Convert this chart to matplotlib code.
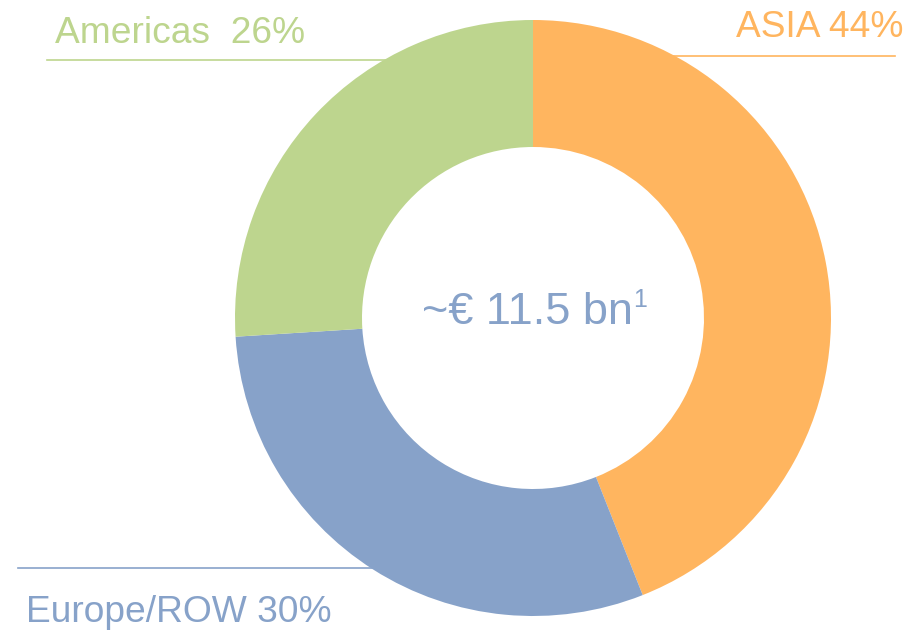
import matplotlib.pyplot as plt

regions = ["ASIA", "Europe/ROW", "Americas"]
shares = [44, 30, 26]
colors = ["#FFB55F", "#87A2C9", "#BDD58E"]
label_texts = ["ASIA 44%", "Europe/ROW 30%", "Americas  26%"]
center_text = "~€ 11.5 bn"
footnote_mark = "1"

W, H = 922, 630
fig = plt.figure(figsize=(W / 100, H / 100), dpi=100)
ax = fig.add_axes([0, 0, 1, 1])

cx, cy = 533, H - 318
r_out, r_in = 298, 171

# leader lines go behind the ring
ax.plot([47, 400], [H - 60, H - 60], color=colors[2], lw=1.2, zorder=1)
ax.plot([600, 895], [H - 56, H - 56], color=colors[0], lw=1.2, zorder=1)
ax.plot([18, 400], [H - 568, H - 568], color=colors[1], lw=1.2, zorder=1)

ax.pie(shares, colors=colors, startangle=90, counterclock=False,
       center=(cx, cy), radius=r_out, frame=True,
       wedgeprops=dict(width=r_out - r_in, linewidth=0))
ax.set_xlim(0, W)
ax.set_ylim(0, H)
ax.set_aspect('equal')
ax.set_axis_off()

font = ["Liberation Sans", "DejaVu Sans"]
fs = 26.7
ax.text(55, H - 43, label_texts[2], color=colors[2], fontsize=fs, family=font, va='baseline', ha='left')
ax.text(903, H - 37, label_texts[0], color=colors[0], fontsize=fs, family=font, va='baseline', ha='right')
ax.text(26, H - 622, label_texts[1], color=colors[1], fontsize=fs, family=font, va='baseline', ha='left')

# centre value with a raised footnote mark
ax.text(633, H - 324, center_text, color=colors[1], fontsize=32.5, family=font, va='baseline', ha='right')
ax.text(633, H - 307, footnote_mark, color=colors[1], fontsize=18, family=font, va='baseline', ha='left')

fig.savefig("out.png", dpi=100)
